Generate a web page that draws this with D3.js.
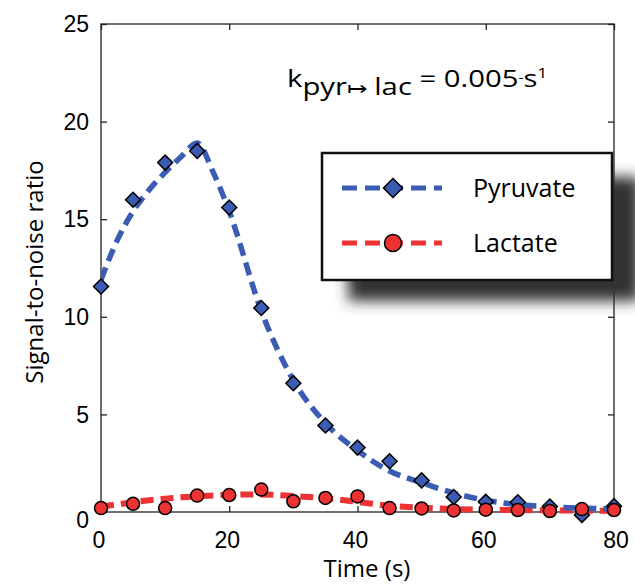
<!DOCTYPE html>
<html>
<head>
<meta charset="utf-8">
<script src="https://cdn.jsdelivr.net/npm/d3@7"></script>
<style>
  body { margin: 0; background: #fff; }
  svg { display: block; }
</style>
</head>
<body>
<svg id="chart"></svg>
<script>
// sample times (s)
const times = [0, 5, 10, 15, 20, 25, 30, 35, 40, 45, 50, 55, 60, 65, 70, 75, 80];
// measured SNR
const pyruvate = [11.55, 16.0, 17.9, 18.5, 15.6, 10.45, 6.6, 4.43, 3.3, 2.6, 1.62, 0.77, 0.52, 0.5, 0.28, -0.15, 0.3];
const lactate = [0.2, 0.42, 0.2, 0.84, 0.87, 1.15, 0.55, 0.72, 0.8, 0.2, 0.18, 0.08, 0.12, 0.1, 0.05, 0.15, 0.1];
// fitted curves
const fitTimes = [0, 2.5, 5, 7.5, 10, 12.5, 15, 17.5, 20, 25, 30, 35, 40, 45, 50, 55, 60, 65, 70, 75, 80];
const pyruvateFit = [11.9, 13.9, 15.4, 16.5, 17.4, 18.2, 18.9, 17.4, 15.4, 10.3, 6.75, 4.55, 3.15, 2.1, 1.5, 0.97, 0.6, 0.38, 0.27, 0.2, 0.15];
const lactateFit = [0.28, 0.39, 0.5, 0.6, 0.68, 0.75, 0.8, 0.85, 0.88, 0.9, 0.82, 0.7, 0.52, 0.32, 0.22, 0.15, 0.12, 0.1, 0.08, 0.07, 0.06];
const xTicks = [0, 20, 40, 60, 80];
const yTicks = [0, 5, 10, 15, 20, 25];

const width = 635, height = 587;
const blue = '#3a5cb2', red = '#ec3232';
const labelFont = "'Open Sans', sans-serif";
const tickFont = "'Liberation Sans', Arial, sans-serif";

let svg = d3.select('#chart').attr('width', width).attr('height', height);

let x = d3.scaleLinear().domain([0, 80]).range([101, 614]);
let y = d3.scaleLinear().domain([0, 25]).range([512, 24]);

let defs = svg.append('defs');
defs.append('clipPath').attr('id', 'plotclip')
  .append('rect').attr('x', 101).attr('y', 24).attr('width', 513).attr('height', 495);
defs.append('filter').attr('id', 'shadow')
  .attr('x', '-20%').attr('y', '-30%').attr('width', '150%').attr('height', '170%')
  .append('feGaussianBlur').attr('stdDeviation', 7);

// frame + inward ticks on all sides
let tickLen = 6;
svg.append('rect')
  .attr('x', x(0)).attr('y', y(25))
  .attr('width', x(80) - x(0)).attr('height', y(0) - y(25))
  .attr('fill', 'none').attr('stroke', '#222').attr('stroke-width', 1.3);

let axisLeftG = svg.append('g').attr('transform', 'translate(' + x(0) + ',0)')
  .call(d3.axisRight(y).tickValues(yTicks).tickSize(tickLen).tickFormat(''));
let axisRightG = svg.append('g').attr('transform', 'translate(' + x(80) + ',0)')
  .call(d3.axisLeft(y).tickValues(yTicks).tickSize(tickLen).tickFormat(''));
let axisBottomG = svg.append('g').attr('transform', 'translate(0,' + y(0) + ')')
  .call(d3.axisTop(x).tickValues(xTicks).tickSize(tickLen).tickFormat(''));
let axisTopG = svg.append('g').attr('transform', 'translate(0,' + y(25) + ')')
  .call(d3.axisBottom(x).tickValues(xTicks).tickSize(tickLen).tickFormat(''));
[axisLeftG, axisRightG, axisBottomG, axisTopG].forEach(g => {
  g.select('.domain').remove();
  g.selectAll('line').attr('stroke', '#222').attr('stroke-width', 1.3);
});

// tick labels
svg.append('g').selectAll('text').data(yTicks).enter().append('text')
  .attr('x', 89)
  .attr('y', d => y(d) + (d === 0 ? 8 : 0))
  .attr('dy', '0.36em')
  .attr('text-anchor', 'end')
  .style('font-family', tickFont).style('font-size', '23px')
  .text(d => d);

svg.append('g').selectAll('text').data(xTicks).enter().append('text')
  .attr('x', d => x(d) - (d === 80 ? -2 : 2))
  .attr('y', 548)
  .attr('text-anchor', 'middle')
  .style('font-family', tickFont).style('font-size', '23px')
  .text(d => d);

// axis titles
svg.append('text')
  .attr('x', 367).attr('y', 577)
  .attr('text-anchor', 'middle')
  .style('font-family', labelFont).style('font-size', '24px')
  .text('Time (s)');

svg.append('text')
  .attr('transform', 'translate(43,272) rotate(-90)')
  .attr('text-anchor', 'middle')
  .style('font-family', labelFont).style('font-size', '24px')
  .text('Signal-to-noise ratio');

// curves
let plot = svg.append('g').attr('clip-path', 'url(#plotclip)');
let line = d3.line().x(d => x(d[0])).y(d => y(d[1])).curve(d3.curveMonotoneX);

plot.append('path')
  .datum(fitTimes.map((t, i) => [t, lactateFit[i]]))
  .attr('d', line)
  .attr('fill', 'none').attr('stroke', red)
  .attr('stroke-width', 6).attr('stroke-dasharray', '13,7');

plot.append('path')
  .datum(fitTimes.map((t, i) => [t, pyruvateFit[i]]))
  .attr('d', line)
  .attr('fill', 'none').attr('stroke', blue)
  .attr('stroke-width', 5.5).attr('stroke-dasharray', '13,7');

let diamond = d3.symbol().type(d3.symbolSquare).size(112);

svg.append('g').selectAll('path').data(times).enter().append('path')
  .attr('d', diamond)
  .attr('transform', (t, i) => 'translate(' + x(t) + ',' + y(pyruvate[i]) + ') rotate(45)')
  .attr('fill', blue).attr('stroke', '#000').attr('stroke-width', 1.5);

svg.append('g').selectAll('circle').data(times).enter().append('circle')
  .attr('cx', t => x(t))
  .attr('cy', (t, i) => y(lactate[i]))
  .attr('r', 6.5)
  .attr('fill', red).attr('stroke', '#000').attr('stroke-width', 1.5);

// annotation (the original is stretched sideways)
let ann = svg.append('text')
  .attr('transform', 'translate(287,87) scale(1.22,1)')
  .style('font-family', labelFont).style('font-size', '24px');
ann.append('tspan').text('k');
ann.append('tspan').attr('dy', 8).text('pyr');
ann.append('tspan').style('font-size', '20px').text('\u21A6');
ann.append('tspan').text(' lac');
ann.append('tspan').attr('dy', -8).text(' = 0.005');
ann.append('tspan').attr('dy', -5).style('font-size', '13px').text('-');
ann.append('tspan').attr('dy', 5).text('s');
ann.append('tspan').attr('dy', -9).style('font-size', '14px').text('1');

// legend
let lg = svg.append('g');
lg.append('rect')
  .attr('x', 348).attr('y', 177).attr('width', 292).attr('height', 124)
  .attr('fill', '#333').attr('filter', 'url(#shadow)');
lg.append('rect')
  .attr('x', 322).attr('y', 153).attr('width', 290).attr('height', 127)
  .attr('fill', '#fff').attr('stroke', '#111').attr('stroke-width', 2.5);

let entries = [
  { name: 'Pyruvate', color: blue, marker: 'diamond', y: 188 },
  { name: 'Lactate', color: red, marker: 'circle', y: 243 }
];
entries.forEach(e => {
  lg.append('line')
    .attr('x1', 342).attr('x2', 442).attr('y1', e.y).attr('y2', e.y)
    .attr('stroke', e.color).attr('stroke-width', 5).attr('stroke-dasharray', '15,8');
  if (e.marker === 'diamond') {
    lg.append('path')
      .attr('d', d3.symbol().type(d3.symbolSquare).size(180))
      .attr('transform', 'translate(393,' + e.y + ') rotate(45)')
      .attr('fill', e.color).attr('stroke', '#000').attr('stroke-width', 1.5);
  } else {
    lg.append('circle')
      .attr('cx', 393).attr('cy', e.y).attr('r', 8.5)
      .attr('fill', e.color).attr('stroke', '#000').attr('stroke-width', 1.5);
  }
  lg.append('text')
    .attr('x', 473).attr('y', e.y + 9)
    .style('font-family', labelFont).style('font-size', '25px')
    .text(e.name);
});
</script>
</body>
</html>
